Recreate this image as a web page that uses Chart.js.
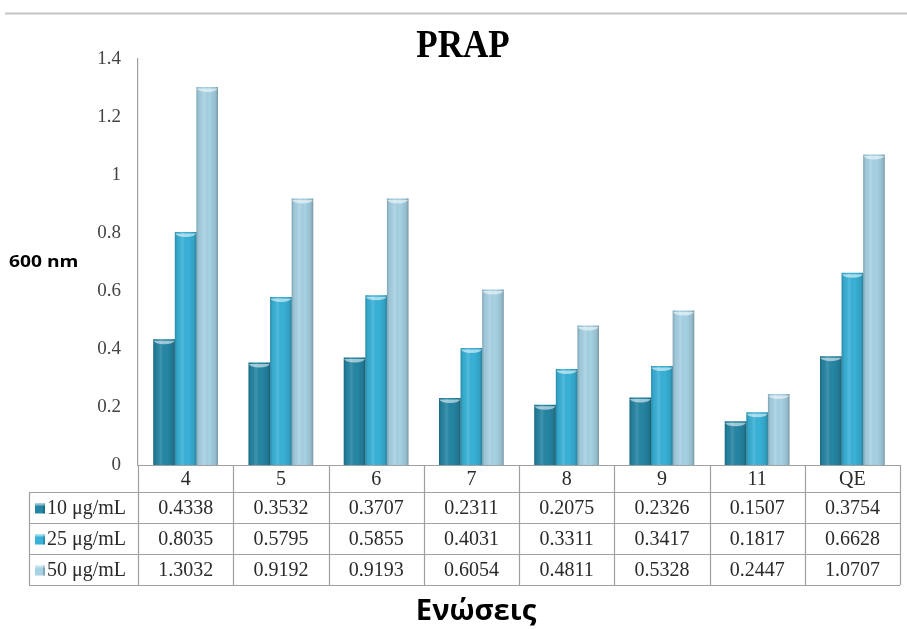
<!DOCTYPE html>
<html>
<head>
<meta charset="utf-8">
<script src="https://cdn.jsdelivr.net/npm/chart.js@4.4.1/dist/chart.umd.min.js"></script>
<style>
  html, body { margin: 0; padding: 0; background: #ffffff; }
  #wrap { position: relative; width: 907px; height: 629px; }
  canvas { display: block; }
</style>
</head>
<body>
<div id="wrap"><canvas id="chart" width="907" height="629"></canvas></div>
<script>
// Compounds tested
const categories = ['4', '5', '6', '7', '8', '9', '11', 'QE'];

// Absorbance at 600 nm for each concentration
const series10 = [0.4338, 0.3532, 0.3707, 0.2311, 0.2075, 0.2326, 0.1507, 0.3754];
const series25 = [0.8035, 0.5795, 0.5855, 0.4031, 0.3311, 0.3417, 0.1817, 0.6628];
const series50 = [1.3032, 0.9192, 0.9193, 0.6054, 0.4811, 0.5328, 0.2447, 1.0707];

const seriesNames = ['10 μg/mL', '25 μg/mL', '50 μg/mL'];
const yTicks = [0, 0.2, 0.4, 0.6, 0.8, 1, 1.2, 1.4];

const colors = ['#2586a4', '#38b2d8', '#a6d2e4'];
const serif = '"Liberation Serif", "Times New Roman", serif';
const sans = '"Open Sans", "DejaVu Sans", sans-serif';

// Top rule and free-standing labels
const decorPlugin = {
  id: 'decor',
  beforeDraw(chart) {
    const ctx = chart.ctx;
    ctx.save();
    ctx.fillStyle = '#ffffff';
    ctx.fillRect(0, 0, chart.width, chart.height);
    ctx.strokeStyle = '#c4c4c4';
    ctx.lineWidth = 2;
    ctx.beginPath();
    ctx.moveTo(5, 13.5);
    ctx.lineTo(chart.width, 13.5);
    ctx.stroke();
    ctx.restore();
  },
  afterDraw(chart) {
    const ctx = chart.ctx;
    const label = (text, x, y, font, sx, align) => {
      ctx.save();
      ctx.fillStyle = '#000000';
      ctx.textAlign = align;
      ctx.textBaseline = 'middle';
      ctx.translate(x, y);
      ctx.scale(sx, 1);
      ctx.font = font;
      ctx.fillText(text, 0, 0);
      ctx.restore();
    };
    label('PRAP', 463, 47, 'bold 39px ' + serif, 0.9, 'center');
    label('600 nm', 9, 262, 'bold 16px ' + sans, 1.2, 'left');
    label('Ενώσεις', 476, 612, 'bold 28px ' + sans, 1.04, 'center');
  }
};

// Cylinder shading over each bar
const cylinderPlugin = {
  id: 'cylinder',
  afterDatasetsDraw(chart) {
    const ctx = chart.ctx;
    chart.data.datasets.forEach((ds, di) => {
      const meta = chart.getDatasetMeta(di);
      meta.data.forEach(bar => {
        const w = bar.width, x0 = bar.x - w / 2, top = bar.y, h = bar.base - bar.y;
        if (h <= 0) return;
        ctx.save();
        const g = ctx.createLinearGradient(x0, 0, x0 + w, 0);
        g.addColorStop(0, 'rgba(0,0,0,0.22)');
        g.addColorStop(0.12, 'rgba(0,0,0,0.05)');
        g.addColorStop(0.35, 'rgba(255,255,255,0.12)');
        g.addColorStop(0.6, 'rgba(0,0,0,0.0)');
        g.addColorStop(0.88, 'rgba(0,0,0,0.10)');
        g.addColorStop(1, 'rgba(0,0,0,0.28)');
        ctx.fillStyle = g;
        ctx.fillRect(x0, top, w, h);
        // concave top cap
        ctx.beginPath();
        ctx.ellipse(bar.x, top + 1.5, w / 2 - 0.5, 3.5, 0, 0, Math.PI);
        ctx.fillStyle = 'rgba(255,255,255,0.55)';
        ctx.fill();
        ctx.restore();
      });
    });
  }
};

// Data table under the plot, aligned with the category scale
const tablePlugin = {
  id: 'dataTable',
  afterDraw(chart) {
    const ctx = chart.ctx;
    const area = chart.chartArea;
    const xs = chart.scales.x;
    const n = categories.length;
    const bounds = [area.left];
    for (let i = 0; i < n - 1; i++) {
      bounds.push((xs.getPixelForTick(i) + xs.getPixelForTick(i + 1)) / 2);
    }
    bounds.push(area.right);

    const headerTop = area.bottom;
    const headerH = 27;
    const rowH = 31;
    const legendLeft = 29;
    const rowsTop = headerTop + headerH;
    const tableBottom = rowsTop + rowH * 3;
    const rows = [series10, series25, series50];

    ctx.save();
    ctx.strokeStyle = '#a0a0a0';
    ctx.lineWidth = 1.2;
    ctx.beginPath();
    // horizontal lines
    ctx.moveTo(area.left, headerTop + 0.5);
    ctx.lineTo(area.right, headerTop + 0.5);
    for (let r = 0; r <= 3; r++) {
      const y = rowsTop + r * rowH + 0.5;
      ctx.moveTo(legendLeft, y);
      ctx.lineTo(area.right, y);
    }
    // vertical lines
    bounds.forEach(b => {
      ctx.moveTo(Math.round(b) + 0.5, headerTop);
      ctx.lineTo(Math.round(b) + 0.5, tableBottom);
    });
    ctx.moveTo(legendLeft + 0.5, rowsTop);
    ctx.lineTo(legendLeft + 0.5, tableBottom);
    ctx.stroke();

    ctx.fillStyle = '#2a2a2a';
    ctx.font = '20px ' + serif;
    ctx.textAlign = 'center';
    ctx.textBaseline = 'middle';
    categories.forEach((c, i) => {
      ctx.fillText(c, xs.getPixelForTick(i), headerTop + headerH / 2 + 1);
    });
    rows.forEach((vals, r) => {
      const yc = rowsTop + r * rowH + rowH / 2 + 1;
      vals.forEach((v, i) => {
        ctx.fillText(v.toFixed(4), xs.getPixelForTick(i), yc);
      });
    });

    // legend keys and names
    ctx.textAlign = 'left';
    seriesNames.forEach((name, r) => {
      const yc = rowsTop + r * rowH + rowH / 2;
      const kx = 35, ks = 10;
      ctx.fillStyle = colors[r];
      ctx.fillRect(kx, yc - ks / 2 + 1, ks, ks);
      ctx.fillStyle = 'rgba(0,0,0,0.2)';
      ctx.fillRect(kx + ks - 2, yc - ks / 2 + 1, 2, ks);
      ctx.fillStyle = 'rgba(255,255,255,0.45)';
      ctx.fillRect(kx, yc - ks / 2 + 1, ks, 2);
      ctx.fillStyle = '#2a2a2a';
      ctx.fillText(name, kx + ks + 2, yc + 1);
    });
    ctx.restore();
  }
};

new Chart(document.getElementById('chart'), {
  type: 'bar',
  data: {
    labels: categories,
    datasets: [
      { label: seriesNames[0], data: series10, backgroundColor: colors[0] },
      { label: seriesNames[1], data: series25, backgroundColor: colors[1] },
      { label: seriesNames[2], data: series50, backgroundColor: colors[2] }
    ]
  },
  options: {
    responsive: false,
    animation: false,
    devicePixelRatio: 1,
    layout: { padding: { top: 59, right: 7, left: 0, bottom: 0 } },
    datasets: {
      bar: { categoryPercentage: 0.68, barPercentage: 1.0, borderWidth: 0 }
    },
    plugins: {
      legend: { display: false },
      tooltip: { enabled: false },
      title: { display: false }
    },
    scales: {
      x: {
        grid: { display: false, drawTicks: false },
        border: { display: false },
        ticks: { display: false },
        title: { display: false },
        afterFit(scale) { scale.height = 164; }
      },
      y: {
        min: 0,
        max: 1.4,
        grid: { display: false, drawTicks: false },
        border: { display: true, color: '#a0a0a0', width: 1.2 },
        afterBuildTicks(scale) { scale.ticks = yTicks.map(v => ({ value: v })); },
        ticks: {
          color: '#444444',
          padding: 17,
          font: { family: serif, size: 19 },
          callback: v => String(v)
        },
        afterFit(scale) { scale.width = 138; }
      }
    }
  },
  plugins: [decorPlugin, cylinderPlugin, tablePlugin]
});
</script>
</body>
</html>
